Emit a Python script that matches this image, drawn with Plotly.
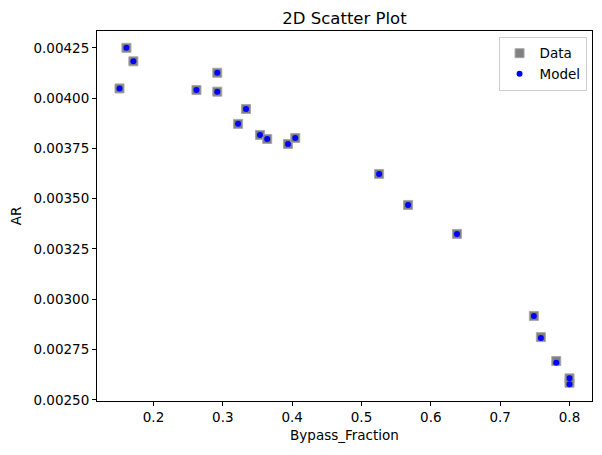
import plotly.graph_objects as go

bypass_fraction = [0.151, 0.161, 0.171, 0.262, 0.292, 0.292, 0.322, 0.3335, 0.3536, 0.364,
                   0.394, 0.4045, 0.5254, 0.5672, 0.6377, 0.7486, 0.7587, 0.7809, 0.800, 0.800]
ar_data = [0.004048, 0.004250, 0.004183, 0.004040, 0.004126, 0.004032, 0.003872, 0.003946,
           0.003817, 0.003797, 0.003772, 0.003802, 0.003623, 0.003469, 0.003325, 0.002917,
           0.002812, 0.002693, 0.002607, 0.002585]
ar_model = [0.004048, 0.004250, 0.004183, 0.004040, 0.004126, 0.004032, 0.003872, 0.003946,
            0.003817, 0.003797, 0.003772, 0.003802, 0.003623, 0.003469, 0.003325, 0.002917,
            0.002807, 0.002684, 0.002608, 0.002578]

x_ticks = [0.2, 0.3, 0.4, 0.5, 0.6, 0.7, 0.8]
y_ticks = [0.00250, 0.00275, 0.00300, 0.00325, 0.00350, 0.00375, 0.00400, 0.00425]


def padded(vals):
    lo, hi = min(vals), max(vals)
    m = (hi - lo) * 0.05
    return [lo - m, hi + m]


FONT = "DejaVu Sans"

fig = go.Figure()
fig.add_trace(go.Scatter(
    x=bypass_fraction, y=ar_data, mode="markers", name="Data",
    marker=dict(symbol="square", size=9, color="#808080",
                line=dict(color="#a8a8a8", width=1)),
))
fig.add_trace(go.Scatter(
    x=bypass_fraction, y=ar_model, mode="markers", name="Model",
    marker=dict(symbol="circle", size=6, color="#0000ff", line=dict(width=0)),
))

axis_common = dict(
    showline=True, linecolor="black", linewidth=1, mirror=True,
    showgrid=False, zeroline=False,
    ticks="outside", ticklen=4, tickcolor="black", tickwidth=1,
    tickfont=dict(family=FONT, size=13.5, color="black"),
)

fig.update_layout(
    width=602, height=455,
    margin=dict(l=97, r=10, t=31, b=54),
    paper_bgcolor="white", plot_bgcolor="white",
    font=dict(family=FONT, size=13.5, color="black"),
    title=dict(text="2D Scatter Plot", x=0.5, xref="paper", xanchor="center",
               y=1 - 18 / 455, yref="container", yanchor="middle",
               font=dict(family=FONT, size=16.5, color="black")),
    xaxis=dict(range=padded(bypass_fraction), tickvals=x_ticks,
               ticktext=[f"{v:.1f}" for v in x_ticks],
               title=dict(text="Bypass_Fraction", standoff=6,
                          font=dict(family=FONT, size=13.5)),
               **axis_common),
    yaxis=dict(range=padded(ar_data + ar_model), tickvals=y_ticks,
               ticktext=[f"{v:.5f}" for v in y_ticks],
               title=dict(text="AR", standoff=8,
                          font=dict(family=FONT, size=13.5)),
               **axis_common),
    legend=dict(x=0.989, y=0.984, xanchor="right", yanchor="top",
                bgcolor="rgba(255,255,255,0.8)", bordercolor="#cccccc", borderwidth=1,
                font=dict(family=FONT, size=13.5), itemwidth=30),
    showlegend=True,
)

fig.write_html("out.html")
